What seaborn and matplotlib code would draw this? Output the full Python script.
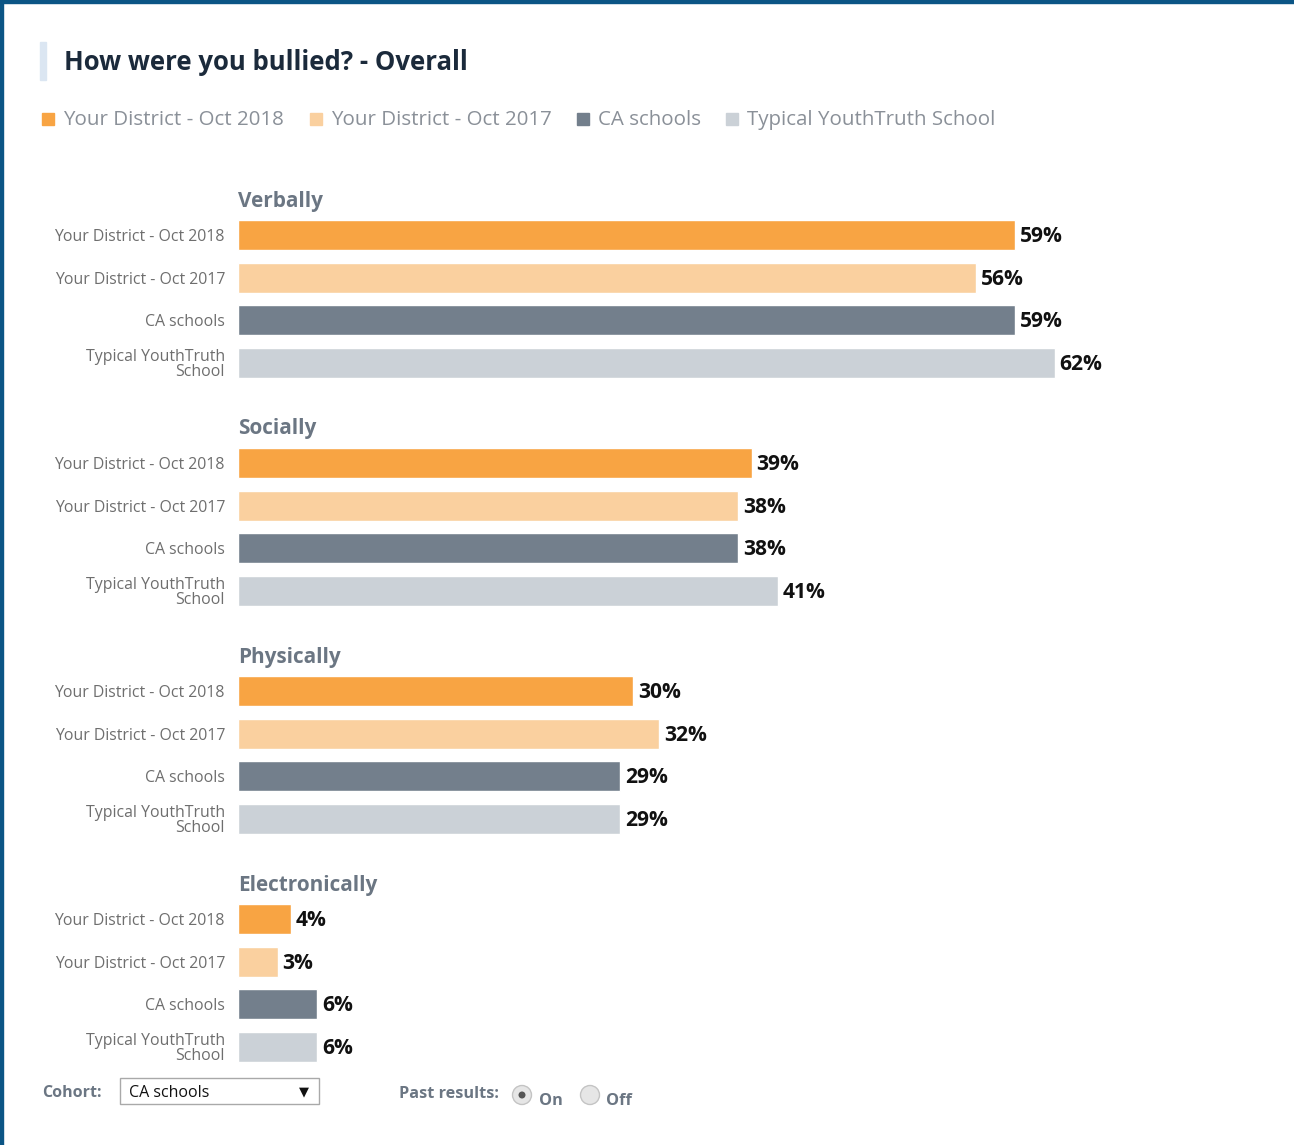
import matplotlib
matplotlib.use("Agg")
import matplotlib.pyplot as plt
from matplotlib.patches import Rectangle, Ellipse
import seaborn as sns
import pandas as pd

# ---------------- data ----------------
groups = ["Verbally", "Socially", "Physically", "Electronically"]
series = ["Your District - Oct 2018", "Your District - Oct 2017",
          "CA schools", "Typical YouthTruth School"]
tick_labels = ["Your District - Oct 2018", "Your District - Oct 2017",
               "CA schools", "Typical YouthTruth\nSchool"]
district_2018 = [59, 39, 30, 4]
district_2017 = [56, 38, 32, 3]
ca_schools = [59, 38, 29, 6]
typical_yt = [62, 41, 29, 6]
colors = ["#f8a443", "#fad09f", "#737f8c", "#cbd1d7"]

values = [district_2018, district_2017, ca_schools, typical_yt]

# ---------------- figure ----------------
W, H = 1294, 1145
sns.set_theme(style="white")
plt.rcParams["font.family"] = ["Open Sans", "DejaVu Sans"]
fig = plt.figure(figsize=(W / 100, H / 100), dpi=100)
fig.patch.set_facecolor("white")


def fx(x):
    return x / W


def fy(y):
    return 1 - y / H


def pt(px):
    return px * 72 / 100


# frame borders
fig.patches.append(Rectangle((0, 0), fx(3), 1, transform=fig.transFigure,
                             color="#0b5585", zorder=0))
fig.patches.append(Rectangle((0, fy(3)), 1, 3 / H, transform=fig.transFigure,
                             color="#0b5585", zorder=0))

# title
fig.patches.append(Rectangle((fx(40), fy(80)), fx(6), (80 - 42) / H,
                             transform=fig.transFigure, color="#dbe6f2"))
fig.text(fx(64), fy(63), "How were you bullied? - Overall", fontsize=pt(25.7),
         fontweight="bold", color="#1b2a3b", va="center", ha="left")

# legend
leg_sq_x = [42, 310, 577, 726]
for i, name in enumerate(series):
    x0 = leg_sq_x[i]
    fig.patches.append(Rectangle((fx(x0), fy(125)), fx(12), 12 / H,
                                 transform=fig.transFigure, color=colors[i]))
    fig.text(fx(x0 + 21), fy(120), name, fontsize=pt(20.5), color="#8a9098",
             va="center", ha="left")

# bar groups
scale = 13.17  # px per percent
ax_left, ax_right = 238, 1238
row_h = 42.67
first_centers = [235, 463, 691, 919]
header_y = [201, 429, 657, 885]

for g, gname in enumerate(groups):
    df = pd.DataFrame({
        "label": tick_labels,
        "value": [values[s][g] for s in range(4)],
    })
    top = first_centers[g] - row_h / 2
    bottom = top + 4 * row_h
    ax = fig.add_axes([fx(ax_left), fy(bottom), fx(ax_right - ax_left), (bottom - top) / H])
    sns.barplot(data=df, y="label", x="value", hue="label", palette=colors,
                width=0.70, legend=False, ax=ax, saturation=1, orient="h")
    ax.set_xlim(0, (ax_right - ax_left) / scale)
    ax.set_ylim(3.5, -0.5)
    for p in ax.patches:
        w = p.get_width()
        if w <= 0:
            continue
        ax.annotate(f"{int(round(w))}%", xy=(w, p.get_y() + p.get_height() / 2),
                    xytext=(pt(5), -pt(1.5)), textcoords="offset points",
                    va="center", ha="left", fontsize=pt(21), fontweight="bold",
                    color="#111111")
    ax.set_xlabel("")
    ax.set_ylabel("")
    ax.set_xticks([])
    for sp in ax.spines.values():
        sp.set_visible(False)
    ax.tick_params(axis="y", length=0, pad=pt(13), labelsize=pt(15.9),
                   labelcolor="#6e6e6e")
    for lab in ax.get_yticklabels():
        lab.set_linespacing(0.95)
    ax.patch.set_alpha(0)
    fig.text(fx(ax_left), fy(header_y[g]), gname, fontsize=pt(20.8), fontweight="bold",
             color="#6b7683", va="center", ha="left")

# bottom controls
ctrl_col = "#6b7683"
fig.text(fx(42), fy(1093), "Cohort:", fontsize=pt(16), fontweight="bold",
         color=ctrl_col, va="center", ha="left")
fig.patches.append(Rectangle((fx(120), fy(1104)), fx(199), 26 / H,
                             transform=fig.transFigure, facecolor="white",
                             edgecolor="#a9a9a9", linewidth=1))
fig.text(fx(129), fy(1093), "CA schools", fontsize=pt(16), color="#111111",
         va="center", ha="left")
fig.text(fx(304), fy(1092), "▼", fontsize=pt(13), color="#111111",
         va="center", ha="center", family=["DejaVu Sans"])

fig.text(fx(399), fy(1094), "Past results:", fontsize=pt(16.3), fontweight="bold",
         color=ctrl_col, va="center", ha="left")
for cx, on in [(522, True), (590, False)]:
    fig.patches.append(Ellipse((fx(cx), fy(1095)), fx(19), 19 / H,
                               transform=fig.transFigure, facecolor="#e6e6e6",
                               edgecolor="#c4c4c4", linewidth=1))
    if on:
        fig.patches.append(Ellipse((fx(cx), fy(1095)), fx(7), 7 / H,
                                   transform=fig.transFigure, facecolor="#555555",
                                   edgecolor="none"))
fig.text(fx(539), fy(1101), "On", fontsize=pt(16.3), fontweight="bold",
         color=ctrl_col, va="center", ha="left")
fig.text(fx(606), fy(1101), "Off", fontsize=pt(16.3), fontweight="bold",
         color=ctrl_col, va="center", ha="left")

fig.savefig("out.png", dpi=100, facecolor="white")
